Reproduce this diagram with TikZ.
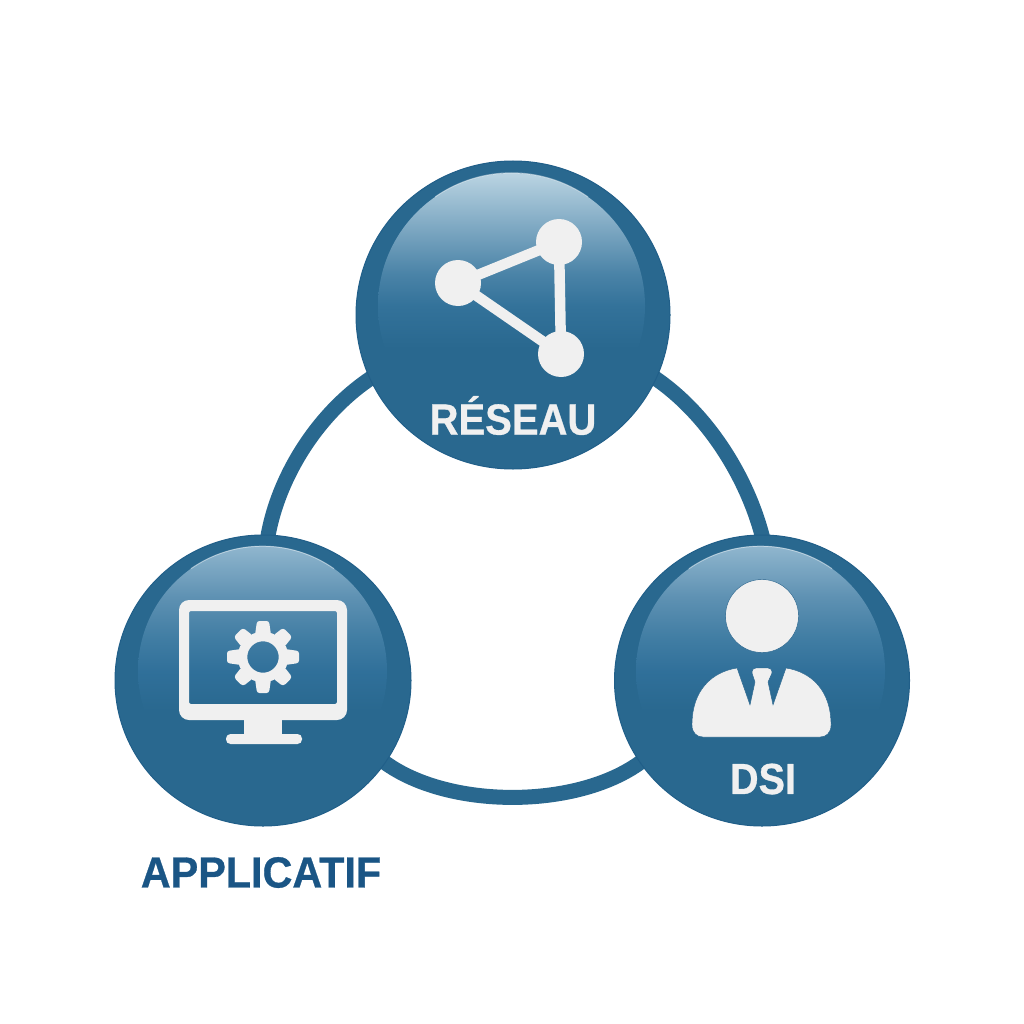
\documentclass[tikz,border=0pt]{standalone}
\usepackage{fontspec}
\setmainfont{Liberation Sans}
\newfontfamily\heavy[FakeBold=0.7]{Liberation Sans Bold}
\usetikzlibrary{shapes.geometric}
\definecolor{basec}{HTML}{29688F}
\definecolor{rimc}{HTML}{215F89}
\definecolor{bandc}{HTML}{29688F}
\definecolor{iconc}{HTML}{F0F0F0}
\definecolor{inkc}{HTML}{1A5585}
\definecolor{topa}{HTML}{33729A}
\definecolor{topd}{HTML}{4A83A7}
\definecolor{topb}{HTML}{7FA9C3}
\definecolor{topc}{HTML}{BAD4E2}
\definecolor{sidea}{HTML}{30709A}
\definecolor{sided}{HTML}{427EA4}
\definecolor{sideb}{HTML}{5F92B3}
\definecolor{sidec}{HTML}{90B6CE}
\pgfdeclareverticalshading{glossTop}{100bp}{color(0bp)=(basec);color(42bp)=(basec);color(50bp)=(topa);color(56bp)=(topd);color(65bp)=(topb);color(75bp)=(topc);color(100bp)=(topc)}
\pgfdeclareverticalshading{glossSide}{100bp}{color(0bp)=(basec);color(42bp)=(basec);color(50bp)=(sidea);color(57bp)=(sided);color(65bp)=(sideb);color(75bp)=(sidec);color(100bp)=(sidec)}
\tikzset{
  disc/.style={ellipse,inner sep=0pt,outer sep=0pt,fill=bandc,draw=rimc,line width=1pt},
  gloss/.style={ellipse,inner sep=0pt,outer sep=0pt,shading=#1,draw=none},
  sheen/.style={draw=white,opacity=.45,line width=1pt},
  ringline/.style={draw=basec,line width=15pt,line cap=butt,shorten <=-5pt,shorten >=-5pt},
  edge/.style={draw=iconc,line width=10.5pt},
  dot/.style={circle,inner sep=0pt,minimum size=46pt,fill=iconc},
  label/.style={font=\fontsize{43.5}{48}\heavy,inner sep=0pt},
  onDisc/.style={label,text=iconc},
  icon/.style={fill=iconc,draw=rimc,line width=.4pt}
}
\begin{document}
\begin{tikzpicture}[x=1pt,y=-1pt]
\useasboundingbox (0,0) rectangle (1024,1024);
\fill[white] (0,0) rectangle (1024,1024);
% named discs (positions first, painted after the ring)
\path node[ellipse,minimum width=314pt,minimum height=308pt,inner sep=0pt,outer sep=0pt] (res) at (513,315) {};
\path node[ellipse,minimum width=296pt,minimum height=291pt,inner sep=0pt,outer sep=0pt] (app) at (263,680.5) {};
\path node[ellipse,minimum width=295pt,minimum height=291pt,inner sep=0pt,outer sep=0pt] (dsi) at (762,680.5) {};
% ring
\draw[ringline] (app.88) .. controls (277,478) and (318,412) .. (res.204);
\draw[ringline] (dsi.90) .. controls (748,478) and (707,412) .. (res.-24);
\draw[ringline] (app.-34) .. controls (445,810) and (580,810) .. (dsi.214);
% discs
\node[disc,minimum width=314pt,minimum height=308pt] at (res.center) {};
\node[disc,minimum width=296pt,minimum height=291pt] at (app.center) {};
\node[disc,minimum width=295pt,minimum height=291pt] at (dsi.center) {};
\node[gloss=glossTop,minimum width=267pt,minimum height=266pt] (resgloss) at (511.5,306) {};
\node[gloss=glossSide,minimum width=249pt,minimum height=250pt] (appgloss) at (262.5,671) {};
\node[gloss=glossSide,minimum width=249pt,minimum height=250pt] (dsigloss) at (760.5,671) {};
\draw[sheen] (resgloss.125) arc[start angle=-125,end angle=-55,radius=133.3];
\draw[sheen] (appgloss.125) arc[start angle=-125,end angle=-55,radius=124.8];
\draw[sheen] (dsigloss.125) arc[start angle=-125,end angle=-55,radius=124.8];
% network icon
\coordinate (na) at (458,283);
\coordinate (nb) at (559,242);
\coordinate (nc) at (561,354);
\draw[edge] (na) -- (nb) -- (nc) -- cycle;
\node[dot] (d1) at (na) {};
\node[dot] (d2) at (nb) {};
\node[dot] (d3) at (nc) {};
\node[onDisc,xscale=.92] (t1) at (513,415.5) {RÉSEAU};
% monitor icon
\fill[iconc,even odd rule] [rounded corners=10pt] (179,600) rectangle (347,720)
   [rounded corners=2pt] (189,611) rectangle (337,704);
\fill[iconc] (244,716) rectangle (282,738);
\fill[iconc,rounded corners=4.5pt] (226,734) rectangle (302,744);
% gear
\draw[iconc,line width=9.5pt] (263,657) circle[radius=20.5];
\foreach \a in {0,90,180,270}
  \fill[iconc,rounded corners=2.5pt,shift={(263,657)},rotate=\a] (22,-8) -- (36,-6) -- (36,6) -- (22,8) -- cycle;
\foreach \a in {45,135,225,315}
  \fill[iconc,rounded corners=3pt,shift={(263,657)},rotate=\a] (22,-8) -- (35,-6.5) -- (35,6.5) -- (22,8) -- cycle;
% person icon
\node[icon,circle,inner sep=0pt,minimum size=73pt] (head) at (762,616) {};
\path[icon] (692,725) .. controls (692,690) and (712,672) .. (737,668)
  -- (750,705) -- (755,682) -- (752,673) .. controls (752,669) and (754,668) .. (756,668)
  -- (768,668) .. controls (770,668) and (772,669) .. (772,673)
  -- (768,682) -- (773,705) -- (786,668)
  .. controls (811,672) and (831,690) .. (831,725)
  .. controls (831,733) and (826,737) .. (820,737) -- (703,737)
  .. controls (697,737) and (692,733) .. (692,725) -- cycle;
\node[onDisc,xscale=.91] (t2) at (763,779) {DSI};
\node[label,text=inkc,xscale=.95] (t3) at (261,872.5) {APPLICATIF};
\end{tikzpicture}
\end{document}
